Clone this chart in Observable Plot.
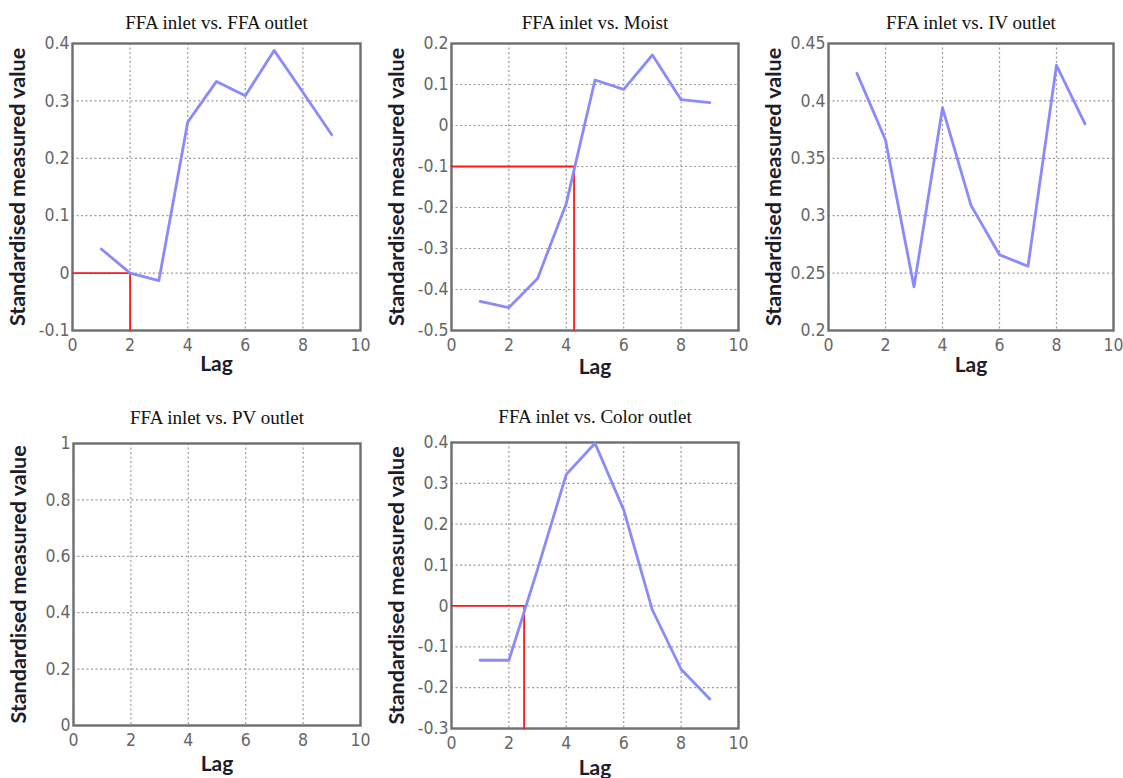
<!DOCTYPE html>
<html>
<head>
<meta charset="utf-8">
<script src="https://cdn.jsdelivr.net/npm/d3@7"></script>
<script src="https://cdn.jsdelivr.net/npm/@observablehq/plot@0.6"></script>
<style>
  html, body { margin: 0; padding: 0; background: #fff; }
  #root { position: relative; width: 1123px; height: 778px; overflow: hidden; }
  .panel { position: absolute; }
  .panel svg { overflow: visible; }
</style>
</head>
<body>
<div id="root"></div>
<script>
// ---- data ----
const lags = [1, 2, 3, 4, 5, 6, 7, 8, 9];
const xTicks = [0, 2, 4, 6, 8, 10];

const titles = [
  "FFA inlet vs. FFA outlet",
  "FFA inlet vs. Moist",
  "FFA inlet vs. IV outlet",
  "FFA inlet vs. PV outlet",
  "FFA inlet vs. Color outlet"
];

const ffaOutlet = [0.042, 0.0, -0.013, 0.263, 0.334, 0.309, 0.388, 0.315, 0.241];
const moist     = [-0.429, -0.444, -0.373, -0.19, 0.111, 0.088, 0.172, 0.063, 0.056];
const ivOutlet  = [0.424, 0.366, 0.238, 0.394, 0.309, 0.266, 0.256, 0.431, 0.380];
const pvOutlet  = [];
const colorOutlet = [-0.133, -0.133, 0.09, 0.322, 0.398, 0.235, -0.01, -0.155, -0.228];

const yTicksFfa   = [-0.1, 0, 0.1, 0.2, 0.3, 0.4];
const yTicksMoist = [-0.5, -0.4, -0.3, -0.2, -0.1, 0, 0.1, 0.2];
const yTicksIv    = [0.2, 0.25, 0.3, 0.35, 0.4, 0.45];
const yTicksPv    = [0, 0.2, 0.4, 0.6, 0.8, 1];
const yTicksColor = [-0.3, -0.2, -0.1, 0, 0.1, 0.2, 0.3, 0.4];

// red reference markers: [lag, value]
const refFfa   = [2, 0];
const refMoist = [4.27, -0.1];
const refIv    = null;
const refPv    = null;
const refColor = [2.53, 0];

const yLabel = "Standardised measured value";
const xLabel = "Lag";

// ---- layout of panels ----
const panels = [
  {title: titles[0], values: ffaOutlet,   yTicks: yTicksFfa,   ref: refFfa,   left: 0,   top: 0,   width: 375, height: 385, ml: 72, mr: 15, mt: 43, mb: 55, tdy: -28, ldy: 40},
  {title: titles[1], values: moist,       yTicks: yTicksMoist, ref: refMoist, left: 380, top: 0,   width: 375, height: 385, ml: 71, mr: 17, mt: 43, mb: 55, tdy: -28, ldy: 43},
  {title: titles[2], values: ivOutlet,    yTicks: yTicksIv,    ref: refIv,    left: 757, top: 0,   width: 366, height: 385, ml: 71, mr: 10, mt: 43, mb: 55, tdy: -28, ldy: 41},
  {title: titles[3], values: pvOutlet,    yTicks: yTicksPv,    ref: refPv,    left: 0,   top: 400, width: 375, height: 378, ml: 73, mr: 15, mt: 43, mb: 53, tdy: -33, ldy: 45},
  {title: titles[4], values: colorOutlet, yTicks: yTicksColor, ref: refColor, left: 380, top: 400, width: 375, height: 378, ml: 71, mr: 17, mt: 42, mb: 50, tdy: -33, ldy: 46}
];

const fmt = d => String(+d.toFixed(2));
const tickFont = "'Liberation Sans Narrow', 'DejaVu Sans Condensed', 'Roboto', sans-serif";
const labelFont = "Lato, 'Open Sans', sans-serif";

const root = document.getElementById("root");

for (const p of panels) {
  const data = p.values.map((v, i) => ({lag: lags[i], value: v}));
  const yDomain = [p.yTicks[0], p.yTicks[p.yTicks.length - 1]];
  const marks = [
    Plot.gridX(xTicks, {stroke: "#9a9a9a", strokeOpacity: 1, strokeDasharray: "2,2.5", strokeWidth: 1.2}),
    Plot.gridY(p.yTicks, {stroke: "#9a9a9a", strokeOpacity: 1, strokeDasharray: "2,2.5", strokeWidth: 1.2}),
    Plot.axisX(xTicks, {tickSize: 0, tickPadding: 8, tickFormat: fmt, fill: "#666", fontSize: 17.5, fontFamily: tickFont, label: null}),
    Plot.axisY(p.yTicks, {tickSize: 0, tickPadding: 3, tickFormat: fmt, fill: "#666", fontSize: 17.5, fontFamily: tickFont, label: null}),
    Plot.frame({stroke: "#6e6e6e", strokeWidth: 2.4})
  ];
  if (p.ref) {
    const refPath = [
      {lag: xTicks[0], value: p.ref[1]},
      {lag: p.ref[0], value: p.ref[1]},
      {lag: p.ref[0], value: yDomain[0]}
    ];
    marks.push(Plot.line(refPath, {x: "lag", y: "value", stroke: "#ff1a1a", strokeWidth: 1.8}));
  }
  if (data.length) {
    marks.push(Plot.line(data, {x: "lag", y: "value", stroke: "#8a8aff", strokeWidth: 2.8, strokeLinejoin: "round"}));
  }
  marks.push(
    Plot.text([p.title], {text: d => d, frameAnchor: "top", dy: p.tdy, fontFamily: "'Liberation Serif', 'Times New Roman', serif", fontSize: 19, fill: "#111"}),
    Plot.text([xLabel], {text: d => d, frameAnchor: "bottom", dy: p.ldy, fontFamily: labelFont, fontWeight: "bold", fontSize: 21, fill: "#1c1c2a"}),
    Plot.text([yLabel], {text: d => d, frameAnchor: "left", textAnchor: "middle", dx: -54, rotate: -90, fontFamily: labelFont, fontWeight: "bold", fontSize: 21.5, fill: "#1c1c2a"})
  );
  const chart = Plot.plot({
    width: p.width,
    height: p.height,
    marginLeft: p.ml, marginRight: p.mr, marginTop: p.mt, marginBottom: p.mb,
    x: {domain: [xTicks[0], xTicks[xTicks.length - 1]]},
    y: {domain: yDomain},
    style: {background: "transparent", overflow: "visible"},
    marks
  });
  const div = document.createElement("div");
  div.className = "panel";
  div.style.left = p.left + "px";
  div.style.top = p.top + "px";
  div.appendChild(chart);
  root.appendChild(div);
}
</script>
</body>
</html>
